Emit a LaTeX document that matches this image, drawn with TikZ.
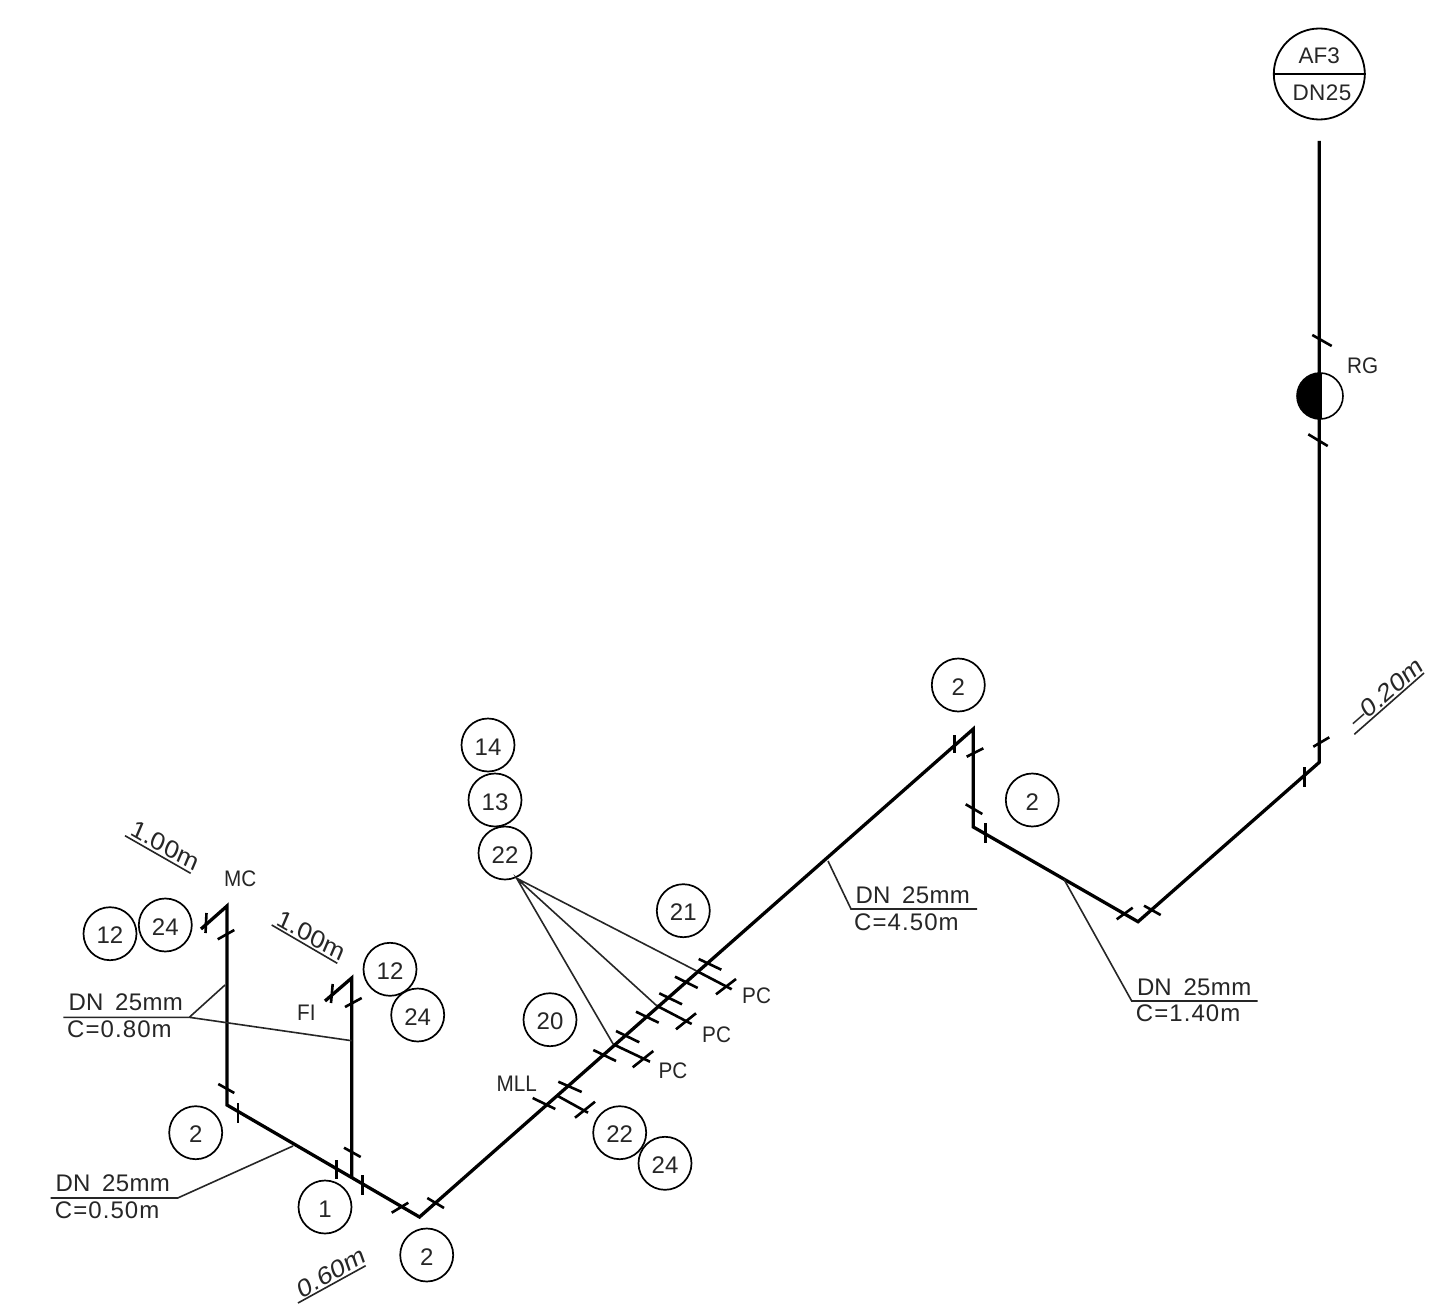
\documentclass[tikz,border=0pt]{standalone}
\usepackage{fontspec}
\setmainfont{Liberation Sans}
\newfontfamily\dimup[FakeSlant=0.18,FakeStretch=1.12,LetterSpace=1]{Liberation Sans}
\newfontfamily\dimdn[FakeSlant=-0.12,FakeStretch=1.12,LetterSpace=1]{Liberation Sans}
\newfontfamily\shortf[FakeStretch=0.92]{Liberation Sans}
\newcommand\dnlab{\makebox[46.5pt][l]{DN}\addfontfeature{LetterSpace=1.5}25mm}
\newcommand\clab[1]{\addfontfeature{LetterSpace=4.5}#1}
\tikzset{
  pipe/.style={line width=3.3pt,line join=miter,black},
  tick/.style={line width=2.6pt,black},
  leader/.style={line width=1.6pt,black!85},
  bubble/.style={circle,draw,line width=1.7pt,minimum size=53pt,inner sep=0pt,text height=20pt,text depth=0pt,font=\fontsize{24}{24}\selectfont,text=black!85},
  lbl/.style={anchor=base west,inner sep=0pt,font=\fontsize{24}{24}\selectfont,text=black!85},
  small/.style={anchor=base west,inner sep=0pt,font=\fontsize{22.5}{22.5}\selectfont\shortf,text=black!85},
  headt/.style={anchor=base,inner sep=0pt,font=\fontsize{22.5}{22.5}\selectfont,text=black!85},
  dim/.style={anchor=center,inner sep=0pt,font=\fontsize{24}{24}\selectfont,text=black!85}
}
\begin{document}
\begin{tikzpicture}[x=1pt,y=-1pt]
\useasboundingbox (0,0) rectangle (1446,1316);
\fill[white] (0,0) rectangle (1446,1316);
% pipe corners
\coordinate (mcs) at (201,929);
\coordinate (mct) at (227,906);
\coordinate (mcb) at (227,1105);
\coordinate (fis) at (325,1001);
\coordinate (fit) at (351.7,978);
\coordinate (fib) at (351.7,1177);
\coordinate (lo) at (419.5,1217);
\coordinate (up) at (973.3,729);
\coordinate (dn) at (973.3,827);
\coordinate (lo2) at (1138,921.7);
\coordinate (rc) at (1319.3,762.3);
\coordinate (top) at (1319.3,141);
\draw[pipe] (mcs)--(mct)--(mcb)--(lo)--(up)--(dn)--(lo2)--(rc)--(top);
\draw[pipe] (fis)--(fit)--(fib);
% ticks
\foreach \xa/\ya/\xb/\yb in {
 206.5/913/205.5/933, 217.7/939.3/234.3/930, 218.3/1084/234.3/1093, 238/1103/238/1123,
 332.7/984/331/1003, 345/1007/361.7/998, 344/1147.7/360.7/1157, 336.7/1160/336.7/1179,
 362.3/1175/362.3/1195, 391.7/1212.7/408.3/1202.7, 427.3/1198/444/1208,
 532.7/1098/555.3/1109, 558.3/1081.7/581.7/1092, 557.3/1095.7/588/1112.7, 575/1117.7/595/1101.7,
 593.3/1050/616/1061, 616/1031/639.3/1042.3, 613.3/1044.3/650/1061.7, 632.7/1067.3/653.3/1051,
 636/1011.7/658.7/1022.7, 659.3/993.3/682/1004.3, 656.7/1005.7/691.7/1024, 676/1029.3/696/1013.3,
 675/976.7/697.7/988, 698.7/959/721.3/969.7, 696.7/971/731.7/989.3, 716/994.3/736/979,
 954.3/735/954.3/753.3, 966.7/756.7/983.3/748.3, 965.7/804.3/982.3/814, 985.3/823.3/985.3/843.3,
 1116.7/919.3/1132.7/907.7, 1144/905.7/1160.7/915, 1304.3/767.3/1304.3/787.3, 1313.3/746.7/1329.3/737.3,
 1312.3/335/1331.7/346, 1308.3/434.3/1327.7/446}
  \draw[tick] (\xa,\ya)--(\xb,\yb);
% bubbles
\node[bubble] (b12a) at (110,933.7) {12};
\node[bubble] (b24a) at (165.3,925) {24};
\node[bubble] (b12b) at (390,969.3) {12};
\node[bubble] (b24b) at (417.7,1015) {24};
\node[bubble] (b2a) at (195.7,1132.7) {2};
\node[bubble] (b1) at (325,1207) {1};
\node[bubble] (b2b) at (426.7,1255) {2};
\node[bubble] (b21) at (683.3,910.7) {21};
\node[bubble] (b20) at (550,1019.7) {20};
\node[bubble] (b22a) at (619.7,1132.7) {22};
\node[bubble] (b24c) at (665,1163.3) {24};
\node[bubble] (b14) at (488,745) {14};
\node[bubble] (b13) at (495,800) {13};
\node[bubble] (b22b) at (505,853) {22};
\node[bubble] (b2c) at (958.3,685) {2};
\node[bubble] (b2d) at (1032.3,800) {2};
% leaders from 22
\coordinate (apex) at (516.7,878.3);
\coordinate (pc1) at (613.3,1044.3);
\coordinate (pc2) at (656.7,1005.7);
\coordinate (pc3) at (696.7,971);
\draw[leader] (pc1)--(apex)--(pc2) (apex)--(pc3);
% DN labels
\coordinate (e1) at (189.3,1017.3);
\coordinate (e1a) at (225,985);
\coordinate (e1b) at (351.7,1040.7);
\coordinate (e1c) at (63.3,1017.3);
\draw[leader] (e1a)--(e1)--(e1b) (e1)--(e1c);
\coordinate (e2) at (177.7,1198);
\coordinate (e2a) at (293,1146);
\coordinate (e2c) at (50.7,1198);
\draw[leader] (e2a)--(e2)--(e2c);
\coordinate (e3) at (851,909);
\coordinate (e3a) at (828,861);
\coordinate (e3c) at (977,909);
\draw[leader] (e3a)--(e3)--(e3c);
\coordinate (e4) at (1131.7,1001);
\coordinate (e4a) at (1064,879.3);
\coordinate (e4c) at (1257.7,1001);
\draw[leader] (e4a)--(e4)--(e4c);
\node[lbl] (t1) at (68.5,1010.7) {\dnlab};
\node[lbl] (t1b) at (67,1037.5) {\clab{C=0.80m}};
\node[lbl] (t2) at (55.5,1191.7) {\dnlab};
\node[lbl] (t2b) at (54.7,1218.5) {\clab{C=0.50m}};
\node[lbl] (t3) at (855.5,903) {\dnlab};
\node[lbl] (t3b) at (854,930) {\clab{C=4.50m}};
\node[lbl] (t4) at (1136.8,995) {\dnlab};
\node[lbl] (t4b) at (1135.7,1021.7) {\clab{C=1.40m}};
% short labels
\node[small] (mc) at (224,886.7) {MC};
\node[small] (fi) at (297,1020) {FI};
\node[small] (mll) at (496.5,1091) {MLL};
\node[small] (pca) at (742,1003.3) {PC};
\node[small] (pcb) at (702,1042.7) {PC};
\node[small] (pcc) at (658.3,1078.3) {PC};
\node[small] (rg) at (1347,373.3) {RG};
% dimension labels
\draw[leader] (125,835.7)--(190.7,873.3);
\draw[leader] (271.7,925)--(337.3,963.3);
\draw[leader] (298,1303)--(365.7,1265.7);
\draw[leader] (1354.3,734.3)--(1424,673);
\node[dim,rotate=-30] (d1) at (166,846) {\dimdn 1.00m};
\node[dim,rotate=-30] (d2) at (312.7,936) {\dimdn 1.00m};
\node[dim,rotate=30] (d3) at (330,1273) {\dimup 0.60m};
\node[dim,rotate=41] (d4) at (1385,693) {\dimup –0.20m};
% head bubble
\node[circle,draw,line width=1.8pt,minimum size=91pt,inner sep=0pt] (head) at (1319.3,74) {};
\draw[line width=2pt] (head.west)--(head.east);
\node[headt] (af) at (1319.3,63.3) {AF3};
\node[headt] (dn25) at (1322,101) {\addfontfeature{LetterSpace=2}DN25};
% valve
\node[circle,draw,line width=1.6pt,fill=white,minimum size=46pt,inner sep=0pt] (rgv) at (1320,396) {};
\fill[black] (1320.5,373) arc[start angle=90,end angle=270,radius=23pt] -- cycle;
\draw[pipe] (1320,373)--(1320,419);
\end{tikzpicture}
\end{document}
